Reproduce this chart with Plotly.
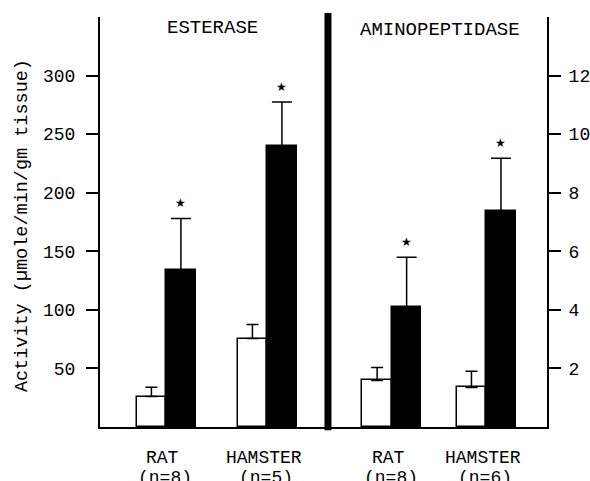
import plotly.graph_objects as go

# ---- data ----
panels = ["ESTERASE", "AMINOPEPTIDASE"]
species = ["RAT", "HAMSTER", "RAT", "HAMSTER"]
n_labels = ["(n=8)", "(n=5)", "(n=8)", "(n=6)"]
group_pos = [1.48, 3.74, 6.53, 8.64]          # x position of each species pair
panel_axis = ["y", "y", "y2", "y2"]

control_mean = [26, 75.5, 1.59, 1.35]
control_err = [8, 12, 0.44, 0.55]
treated_mean = [134, 239.5, 4.1, 7.37]
treated_err = [44, 38, 1.7, 1.81]

left_ticks = [50, 100, 150, 200, 250, 300]
right_ticks = [2, 4, 6, 8, 10, 12]
divider_x = 5.1
bar_w = 0.66

FONT = "Liberation Mono"

fig = go.Figure()

for i in range(4):
    yax = panel_axis[i]
    fig.add_trace(go.Bar(
        x=[group_pos[i] - bar_w / 2], y=[control_mean[i]], width=[bar_w],
        yaxis=yax, marker=dict(color="white", line=dict(color="black", width=1.5)),
        error_y=dict(type="data", array=[control_err[i]], arrayminus=[0], symmetric=False,
                     color="black", thickness=1.5, width=6),
        showlegend=False, hoverinfo="skip"))
    fig.add_trace(go.Bar(
        x=[group_pos[i] + bar_w / 2], y=[treated_mean[i]], width=[bar_w],
        yaxis=yax, marker=dict(color="black", line=dict(color="black", width=1.5)),
        error_y=dict(type="data", array=[treated_err[i]], arrayminus=[0], symmetric=False,
                     color="black", thickness=1.5, width=10),
        showlegend=False, hoverinfo="skip"))

annotations = []
for i in range(4):
    annotations.append(dict(
        x=group_pos[i] + bar_w / 2, y=treated_mean[i] + treated_err[i],
        xref="x", yref=panel_axis[i], text="★", showarrow=False, yshift=15,
        xanchor="center", yanchor="middle",
        font=dict(size=12, color="black", family="DejaVu Sans")))
    annotations.append(dict(
        x=group_pos[i] - 0.08, y=0, xref="x", yref="paper", xanchor="center",
        yanchor="middle", text=species[i], showarrow=False, yshift=-31,
        font=dict(size=18, color="black", family=FONT)))
    annotations.append(dict(
        x=group_pos[i] - 0.02, y=0, xref="x", yref="paper", xanchor="center",
        yanchor="middle", text=n_labels[i], showarrow=False, yshift=-51,
        font=dict(size=18, color="black", family=FONT)))

annotations.append(dict(x=(212 - 100) / 447, y=1.0, xref="paper", yref="paper",
                        text=panels[0], showarrow=False, xanchor="center",
                        yanchor="middle", yshift=-11,
                        font=dict(size=19, color="black", family=FONT)))
annotations.append(dict(x=(440 - 100) / 447, y=1.0, xref="paper", yref="paper",
                        text=panels[1], showarrow=False, xanchor="center",
                        yanchor="middle", yshift=-13,
                        font=dict(size=19, color="black", family=FONT)))
annotations.append(dict(x=(22 - 100) / 447, y=0.49, xref="paper", yref="paper",
                        text="Activity (µmole/min/gm tissue)", textangle=-90,
                        showarrow=False, xanchor="center", yanchor="middle",
                        font=dict(size=18.5, color="black", family=FONT)))

fig.update_layout(
    width=590, height=481,
    margin=dict(l=100, r=43, t=17, b=54, autoexpand=False),
    paper_bgcolor="white", plot_bgcolor="white",
    barmode="overlay", bargap=0,
    font=dict(family=FONT, size=18, color="black"),
    annotations=annotations,
    shapes=[dict(type="line", xref="x", yref="paper", x0=divider_x, x1=divider_x,
                 y0=-0.008, y1=1.01, line=dict(color="black", width=7))],
    xaxis=dict(range=[0, 10], showline=True, linecolor="black", linewidth=2,
               showticklabels=False, ticks="", showgrid=False, zeroline=False,
               automargin=False),
    yaxis=dict(range=[0, 350], tickvals=left_ticks, ticks="outside", ticklen=12,
               tickwidth=2, tickcolor="black", showline=True, linecolor="black",
               linewidth=2, showgrid=False, zeroline=False, ticklabelstandoff=7,
               automargin=False, tickfont=dict(size=18, family=FONT)),
    yaxis2=dict(range=[0, 14], tickvals=right_ticks, overlaying="y", side="right",
                ticks="outside", ticklen=12, tickwidth=2, tickcolor="black",
                showline=True, linecolor="black", linewidth=2, showgrid=False,
                zeroline=False, ticklabelstandoff=4, automargin=False,
                tickfont=dict(size=18, family=FONT)),
)

fig.write_html("out.html",
               config={"displayModeBar": False},
               post_script="document.body.style.margin='0px';"
                           "document.body.style.overflow='hidden';")
